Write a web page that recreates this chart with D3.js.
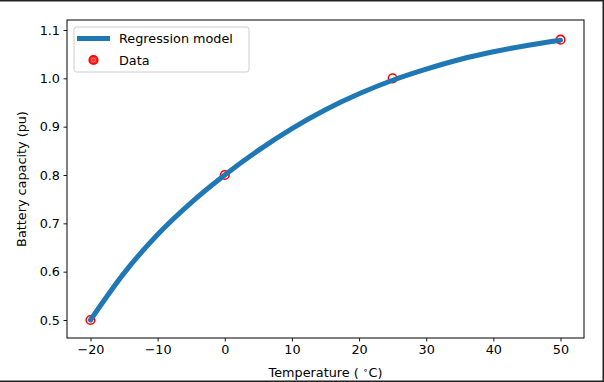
<!DOCTYPE html>
<html><head><meta charset="utf-8">
<script src="https://cdn.jsdelivr.net/npm/d3@7"></script>
<style>body{margin:0;background:#fff}svg{display:block;font-family:"DejaVu Sans",sans-serif}</style>
</head><body>
<svg id="c" width="604" height="382"></svg>
<script>
const dataTemp = [-20, 0, 25, 50];
const dataCap = [0.5, 0.8, 1.0, 1.08];
const modelTemp = [-20, -15, -10, -5, 0, 5, 10, 15, 20, 25, 30, 35, 40, 45, 50];
const modelCap = [0.500, 0.597, 0.677, 0.743, 0.800, 0.851, 0.896, 0.935, 0.968, 0.996, 1.019, 1.039, 1.055, 1.068, 1.079];
const xTicks = [-20, -10, 0, 10, 20, 30, 40, 50];
const yTicks = [0.5, 0.6, 0.7, 0.8, 0.9, 1.0, 1.1];

const svg = d3.select("#c");
const L = 67, R = 584, T = 20, B = 338;
const x = d3.scaleLinear().domain([-23.5, 53.5]).range([L, R]);
// y: 1.1 -> 30, 0.5 -> 320
const y = d3.scaleLinear().domain([0.5, 1.1]).range([320, 30]);

// outer border (top, right, bottom)
svg.append("path").attr("d", "M0,0.75H603.25V381.25H0")
  .attr("fill", "none").attr("stroke", "#222").attr("stroke-width", 1.5);

// axes
const gx = svg.append("g").attr("transform", `translate(0,${B})`)
  .call(d3.axisBottom(x).tickValues(xTicks).tickSize(3.5).tickPadding(3.5)
    .tickFormat(d => d < 0 ? "\u2212" + Math.abs(d) : d));
const gy = svg.append("g").attr("transform", `translate(${L},0)`)
  .call(d3.axisLeft(y).tickValues(yTicks).tickSize(3.5).tickPadding(3.5).tickFormat(d3.format(".1f")));
[gx, gy].forEach(g => {
  g.select(".domain").remove();
  g.selectAll("line").attr("stroke", "#000").attr("stroke-width", 0.9);
  g.selectAll("text").attr("fill", "#000").style("font-size", "12.8px").style("font-family", "DejaVu Sans");
});

// frame
svg.append("rect").attr("x", L).attr("y", T).attr("width", R - L).attr("height", B - T)
  .attr("fill", "none").attr("stroke", "#000").attr("stroke-width", 1);

// data scatter (under the line)
const pts = dataTemp.map((t, i) => [t, dataCap[i]]);
svg.append("g").selectAll("circle").data(pts).join("circle")
  .attr("cx", d => x(d[0])).attr("cy", d => y(d[1])).attr("r", 4.3)
  .attr("fill", "none").attr("stroke", "#ff0000").attr("stroke-width", 1.6);

// regression line
const line = d3.line().x(d => x(d[0])).y(d => y(d[1])).curve(d3.curveMonotoneX);
svg.append("path").datum(modelTemp.map((t, i) => [t, modelCap[i]]))
  .attr("d", line).attr("fill", "none").attr("stroke", "#1f77b4")
  .attr("stroke-width", 5).attr("stroke-linecap", "round");

// legend
const lg = svg.append("g");
lg.append("rect").attr("x", 74).attr("y", 27).attr("width", 175).attr("height", 45).attr("rx", 2.5)
  .attr("fill", "#fff").attr("fill-opacity", 0.8).attr("stroke", "#ccc").attr("stroke-width", 1);
lg.append("line").attr("x1", 77).attr("x2", 110).attr("y1", 38.5).attr("y2", 38.5)
  .attr("stroke", "#1f77b4").attr("stroke-width", 5);
lg.append("text").attr("x", 119).attr("y", 43).text("Regression model").style("font-size", "12.8px");
lg.append("circle").attr("cx", 93.5).attr("cy", 60).attr("r", 4.3).attr("fill", "#ff0000").attr("fill-opacity", 0.85)
  .attr("stroke", "#ff0000").attr("stroke-width", 1.6);
lg.append("circle").attr("cx", 93.5).attr("cy", 60).attr("r", 2).attr("fill", "none")
  .attr("stroke", "#ff9090").attr("stroke-width", 0.8);
lg.append("text").attr("x", 119).attr("y", 64.5).text("Data").style("font-size", "12.8px");

// axis labels
const xl = svg.append("text").attr("x", (L + R) / 2).attr("y", 377).attr("text-anchor", "middle").style("font-size", "12.8px");
xl.append("tspan").text("Temperature ( ");
xl.append("tspan").text("\u2218").attr("dy", -4).style("font-size", "9px");
xl.append("tspan").text("C)").attr("dy", 4);
svg.append("text").attr("transform", `translate(26,${(T + B) / 2}) rotate(-90)`)
  .attr("text-anchor", "middle").style("font-size", "12.8px").text("Battery capacity (pu)");
</script>
</body></html>
